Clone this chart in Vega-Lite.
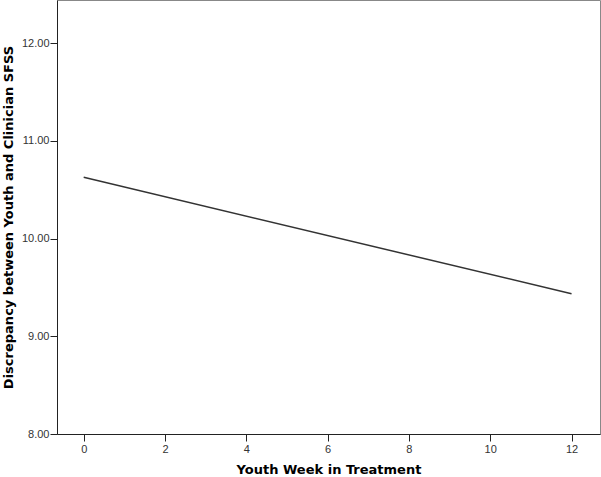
{
  "$schema": "https://vega.github.io/schema/vega-lite/v6.json",
  "width": 543,
  "height": 434,
  "autosize": {"type": "none"},
  "padding": {"left": 57, "top": 0, "right": 1, "bottom": 43},
  "background": "white",
  "config": {
    "view": {"stroke": "#888888", "strokeWidth": 1},
    "font": "Liberation Sans",
    "axis": {
      "grid": false,
      "domainColor": "#222222",
      "tickColor": "#222222",
      "tickSize": 7,
      "labelFont": "Liberation Sans",
      "labelFontSize": 11,
      "labelColor": "#333333",
      "titleFont": "DejaVu Sans",
      "titleFontSize": 13,
      "titleFontWeight": "bold",
      "titleColor": "#000000"
    }
  },
  "data": {
    "values": [
      {"week": 0, "disc": 10.626},
      {"week": 12, "disc": 9.435}
    ]
  },
  "mark": {"type": "line", "color": "#333333", "strokeWidth": 1.5, "clip": true},
  "encoding": {
    "x": {
      "field": "week",
      "type": "quantitative",
      "scale": {"domain": [-0.657, 12.7], "nice": false, "zero": false},
      "axis": {"values": [0, 2, 4, 6, 8, 10, 12], "title": "Youth Week in Treatment", "labelPadding": 2, "titleY": 39, "titleBaseline": "alphabetic"}
    },
    "y": {
      "field": "disc",
      "type": "quantitative",
      "scale": {"domain": [8, 12.44], "nice": false, "zero": false},
      "axis": {"values": [8, 9, 10, 11, 12], "format": ".2f", "title": "Discrepancy between Youth and Clinician SFSS", "labelPadding": 1, "titleX": -49, "titleY": 217, "titleBaseline": "middle", "titleAlign": "center"}
    }
  }
}
